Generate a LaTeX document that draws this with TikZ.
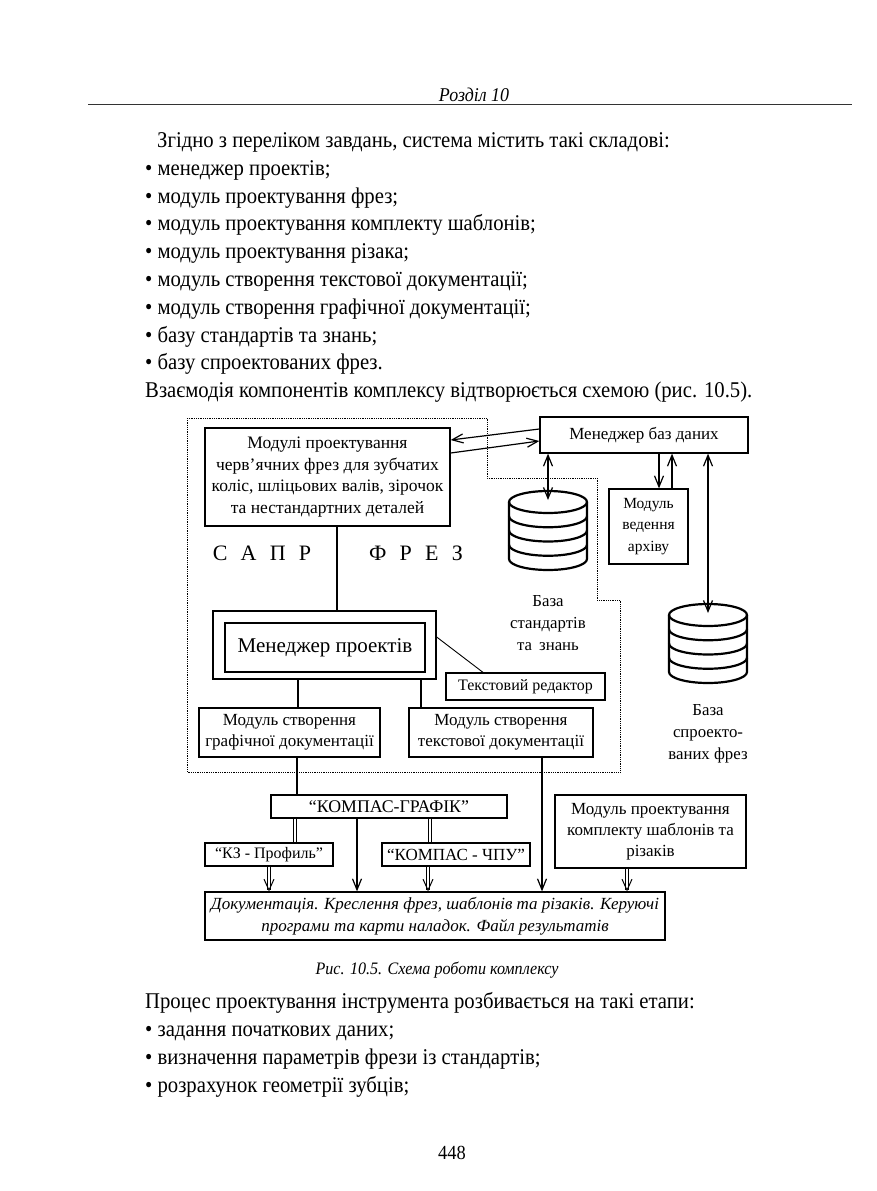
\documentclass[tikz,border=0pt]{standalone}
\usepackage{fontspec}
\setmainfont{Liberation Serif}
\newfontfamily\tilo{Liberation Serif}[FakeStretch=0.92]
\usetikzlibrary{positioning,arrows.meta}

% stack of discs for a data base
\newcommand{\basedisk}[3]{%
  \coordinate (#1) at (#2,#3+9);
  \draw[line width=2.2pt] (#2,#3+11) ellipse[x radius=39pt,y radius=11pt];
  \draw[line width=2.2pt] (#2-39,#3+11) -- (#2-39,#3+68)
     arc[start angle=180,end angle=360,x radius=39pt,y radius=11pt] -- (#2+39,#3+11);
  \foreach \k in {1,2,3}
    \draw[line width=2.2pt] (#2-39,#3+11+14.25*\k) arc[start angle=180,end angle=360,x radius=39pt,y radius=11pt];
}

\tikzset{
  blok/.style={draw,line width=1.3pt,align=center,inner sep=1pt,font=\fontsize{17}{21}\selectfont},
  strl/.style={line width=1.2pt,-{Straight Barb[length=11pt,width=9pt]}},
  strlb/.style={line width=1.2pt,{Straight Barb[length=11pt,width=9pt]}-{Straight Barb[length=11pt,width=9pt]}},
  dvi/.style={double,double distance=2.6pt,line width=1pt},
  ramka/.style={densely dotted,line width=0.8pt},
  tekst/.style={anchor=base west,inner sep=0pt,font=\tilo\fontsize{22.5}{26}\selectfont},
  pidpys/.style={align=center,inner sep=0pt,font=\fontsize{16.8}{22}\selectfont},
  rozryad/.style={font=\fontsize{22}{26}\selectfont},
}

\begin{document}
\begin{tikzpicture}[x=1pt,y=-1pt]
  \path[use as bounding box,fill=white] (0,0) rectangle (876,1191);

  % page head
  \node[font=\tilo\itshape\fontsize{19.5}{22}\selectfont] (zagolovok) at (474,95) {Розділ 10};
  \draw[line width=0.8pt,black!80] (88,104) -- (852,104);

  \node[tekst] (r1) at (157,147) {Згідно з переліком завдань, система містить такі складові:};
  \node[tekst] (r2) at (145,175) {• менеджер проектів;};
  \node[tekst] (r3) at (145,203) {• модуль проектування фрез;};
  \node[tekst] (r4) at (145,230) {• модуль проектування комплекту шаблонів;};
  \node[tekst] (r5) at (145,258) {• модуль проектування різака;};
  \node[tekst] (r6) at (145,286) {• модуль створення текстової документації;};
  \node[tekst] (r7) at (145,314) {• модуль створення графічної документації;};
  \node[tekst] (r8) at (145,342) {• базу стандартів та знань;};
  \node[tekst] (r9) at (145,369) {• базу спроектованих фрез.};
  \node[tekst] (r10) at (145,397) {Взаємодія компонентів комплексу відтворюється схемою (рис. 10.5).};

  % scheme
  \draw[ramka] (187,418) -- (487,418) -- (487,478) -- (597,478) -- (597,600)
     -- (620,600) -- (620,772) -- (187,772) -- cycle;

  \node[blok,minimum width=245,minimum height=98,font=\fontsize{17.5}{21.5}\selectfont] (moduli) at (327.5,477)
     {Модулі проектування\\черв’ячних фрез для зубчатих\\коліс, шліцьових валів, зірочок\\та нестандартних деталей};
  \node[blok,minimum width=208,minimum height=36] (menbaz) at (644,435) {Менеджер баз даних};
  \node[blok,minimum width=79,minimum height=75,font=\fontsize{15.5}{21.5}\selectfont] (arhiv) at (648.5,526.5)
     {Модуль\\ведення\\архіву};

  \basedisk{bazast}{548}{491}
  \basedisk{bazafr}{708}{604}
  \node[pidpys] (bazast-t) at (548,623) {База\\стандартів\\та\, знань};
  \node[pidpys] (bazafr-t) at (708,734) {База\\спроекто-\\ваних фрез};

  \node[rozryad] (sapr) at (262,553) {С\hspace{0.6em}А\hspace{0.6em}П\hspace{0.6em}Р};
  \node[rozryad] (frez) at (416,553) {Ф\hspace{0.6em}Р\hspace{0.6em}Е\hspace{0.6em}З};

  \node[draw,line width=1.3pt,minimum width=223,minimum height=68] (menpr) at (324.5,645) {};
  \node[blok,minimum width=200,minimum height=49,font=\fontsize{21}{24}\selectfont] (menpr-v) at (325,647.5) {Менеджер проектів};
  \node[blok,minimum width=159,minimum height=27,font=\fontsize{16}{20}\selectfont] (redaktor) at (525.5,686.5) {Текстовий редактор};
  \node[blok,minimum width=181,minimum height=49] (grafdok) at (289.5,732.5) {Модуль створення\\графічної документації};
  \node[blok,minimum width=184,minimum height=49] (tekstdok) at (501,732.5) {Модуль створення\\текстової документації};

  \node[blok,minimum width=236,minimum height=23,font=\fontsize{17.8}{21}\selectfont] (kompas) at (389,806.5) {“КОМПАС-ГРАФІК”};
  \node[blok,minimum width=128,minimum height=23,font=\fontsize{16}{21}\selectfont] (kz) at (269,854.5) {“КЗ - Профиль”};
  \node[blok,minimum width=148,minimum height=23] (chpu) at (456,854.5) {“КОМПАС - ЧПУ”};
  \node[blok,minimum width=191,minimum height=73] (shablon) at (650.5,831.5)
     {Модуль проектування\\комплекту шаблонів та\\різаків};
  \node[blok,minimum width=460,minimum height=48,font=\itshape\fontsize{17}{22}\selectfont] (dokument) at (435,916)
     {Документація. Креслення фрез, шаблонів та різаків. Керуючі\\програми та карти наладок. Файл результатів};

  % connectors
  \draw[strl] ([yshift=6pt]menbaz.west) -- ([yshift=37pt]moduli.east);
  \draw[strl] ([yshift=24pt]moduli.east) -- ([yshift=-6pt]menbaz.west);
  \draw[strlb] (bazast |- menbaz.south) -- (bazast);
  \draw[strl] ([xshift=10.5pt]arhiv.north |- menbaz.south) -- ([xshift=10.5pt]arhiv.north);
  \draw[strl] ([xshift=23.5pt]arhiv.north) -- ([xshift=23.5pt]arhiv.north |- menbaz.south);
  \draw[strlb] (bazafr |- menbaz.south) -- (bazafr);
  \draw[line width=1.2pt] ([xshift=9.5pt]moduli.south) -- ([xshift=9.5pt]moduli.south |- menpr.north);
  \draw[line width=0.9pt] ([yshift=8pt]menpr.east) -- ([xshift=-42.5pt]redaktor.north);
  \draw[line width=1.2pt] ([xshift=-26.5pt]menpr.south) -- ([xshift=-26.5pt]menpr.south |- grafdok.north);
  \draw[line width=1.2pt] ([xshift=96.5pt]menpr.south) -- ([xshift=96.5pt]menpr.south |- tekstdok.north);
  \draw[line width=1.2pt] ([xshift=7.5pt]grafdok.south) -- ([xshift=7.5pt]grafdok.south |- kompas.north);
  \draw[strl] ([xshift=41pt]tekstdok.south) -- ([xshift=41pt]tekstdok.south |- dokument.north);
  \draw[dvi] ([xshift=26pt]kz.north |- kompas.south) -- ([xshift=26pt]kz.north);
  \draw[dvi] ([xshift=-26pt]chpu.north |- kompas.south) -- ([xshift=-26pt]chpu.north);
  \draw[strl] ([xshift=-32pt]kompas.south) -- ([xshift=-32pt]kompas.south |- dokument.north);
  \draw[dvi,-{Straight Barb[length=11pt,width=10pt]}] (kz.south) -- (kz.south |- dokument.north);
  \draw[dvi,-{Straight Barb[length=11pt,width=10pt]}] ([xshift=-28pt]chpu.south) -- ([xshift=-28pt]chpu.south |- dokument.north);
  \draw[dvi,-{Straight Barb[length=11pt,width=10pt]}] ([xshift=-23.5pt]shablon.south) -- ([xshift=-23.5pt]shablon.south |- dokument.north);

  \node[font=\tilo\itshape\fontsize{17.5}{20}\selectfont] (pidpys) at (437,970) {Рис. 10.5. Схема роботи комплексу};

  \node[tekst] (s1) at (145,1008) {Процес проектування інструмента розбивається на такі етапи:};
  \node[tekst] (s2) at (145,1036) {• задання початкових даних;};
  \node[tekst] (s3) at (145,1064) {• визначення параметрів фрези із стандартів;};
  \node[tekst] (s4) at (145,1092) {• розрахунок геометрії зубців;};

  \node[font=\tilo\fontsize{20}{24}\selectfont] (storinka) at (452,1153) {448};
\end{tikzpicture}
\end{document}
